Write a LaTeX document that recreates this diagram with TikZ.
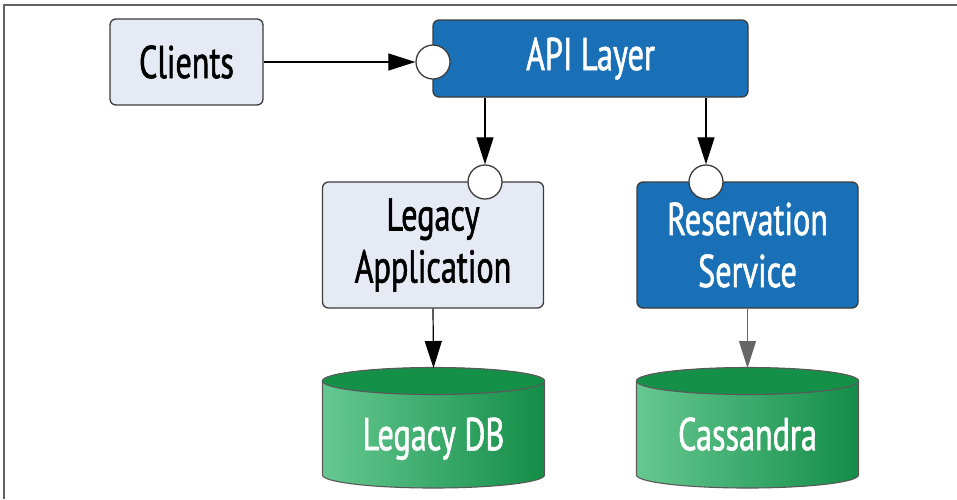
\documentclass[tikz,border=0pt]{standalone}
\usepackage{fontspec}
\setmainfont{PT Sans}[FakeStretch=0.7, FakeBold=1.2]
\usetikzlibrary{arrows.meta}
\definecolor{boxlight}{HTML}{E6EAF4}
\definecolor{boxblue}{HTML}{1A70B6}
\definecolor{edge}{HTML}{3C3C3C}
\definecolor{dbtop}{HTML}{159049}
\definecolor{dbleft}{HTML}{66C891}
\definecolor{dbright}{HTML}{138D47}
\definecolor{framegray}{HTML}{606060}
\tikzset{
  bigtext/.style={font=\fontsize{46}{52}\selectfont},
  lightbox/.style={draw=edge, line width=1.3pt, rounded corners=6pt, fill=boxlight, text=black, bigtext, inner sep=0pt, align=center},
  bluebox/.style={draw=edge, line width=1.3pt, rounded corners=6pt, fill=boxblue, text=white, bigtext, inner sep=0pt, align=center},
  port/.style={circle, draw=edge, line width=1.3pt, fill=white, minimum size=34pt, inner sep=0pt},
  arr/.style={line width=1.2pt, draw=black, -{Triangle[length=27pt, width=17pt]}},
  dbtext/.style={text=white, bigtext, inner sep=0pt, minimum width=222pt, minimum height=120pt},
  dbedge/.style={draw=gray!70!black, line width=1.1pt}
}
\begin{document}
\begin{tikzpicture}[x=1pt, y=-1pt]
\useasboundingbox (0,0) rectangle (957,499);
\fill[white] (0,0) rectangle (957,499);
% frame
\draw[framegray, line width=1.5pt] (4,499) -- (4,5) -- (957,5);

% boxes
\node[lightbox, minimum width=153pt, minimum height=86pt] (clients) at (186.5,62) {Clients};
\node[bluebox, minimum width=315pt, minimum height=77pt] (api) at (590.5,58.5) {API Layer};
\node[lightbox, minimum width=221pt, minimum height=126pt] (legacy) at (433,245) {Legacy\\Application};
\node[bluebox, minimum width=221pt, minimum height=126pt] (resv) at (747.5,245) {Reservation\\Service};

% ports
\node[port] (apiin) at (433,62) {};
\node[port] (legin) at (485,182) {};
\node[port] (resin) at (706,182) {};

% cylinders
\foreach \cx in {433.5,747.5}{
  \path[dbedge, left color=dbleft, right color=dbright]
    (\cx-111,381) -- (\cx-111,475)
    arc[start angle=180, end angle=360, x radius=111pt, y radius=13pt]
    -- (\cx+111,381)
    arc[start angle=0, end angle=180, x radius=111pt, y radius=13pt] -- cycle;
  \draw[dbedge, fill=dbtop] (\cx,381) ellipse [x radius=111pt, y radius=13.5pt];
}
\node[dbtext, anchor=north] (ldb) at (433.5,368) {\raisebox{-22pt}[0pt][0pt]{Legacy DB}};
\node[dbtext, anchor=north] (cdb) at (747.5,368) {\raisebox{-22pt}[0pt][0pt]{Cassandra}};

% connectors
\draw[arr] (clients.east) -- (apiin.west);
\draw[arr] (api.south -| legin.center) -- (legin.north);
\draw[arr] (api.south -| resin.center) -- (resin.north);
\draw[arr] (legacy.south) -- (ldb.north);
\draw[arr, draw=gray!80!black, line width=0.9pt] (resv.south -| cdb.north) -- (cdb.north);
\end{tikzpicture}
\end{document}
